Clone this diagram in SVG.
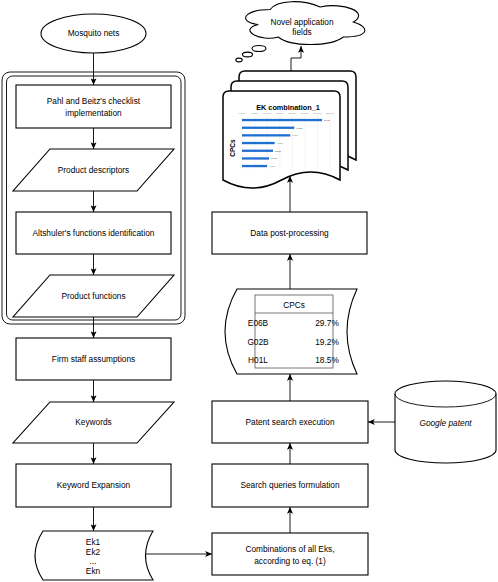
<svg xmlns="http://www.w3.org/2000/svg" width="498" height="582" viewBox="0 0 498 582">
<defs>
<style>
.s{fill:#fff;stroke:#000;stroke-width:1.1}
.t{font-family:"Liberation Sans",Arial,sans-serif;font-size:8.3px;fill:#000;text-anchor:middle}
.c{fill:none;stroke:#000;stroke-width:0.9}
.a{marker-end:url(#ah)}
.g{stroke:#e3e3e3;stroke-width:0.4}
.b{fill:#1f6fd1}
.tk{font-family:"Liberation Sans",Arial,sans-serif;font-size:2.3px;fill:#777;text-anchor:middle}
.bl{font-family:"Liberation Sans",Arial,sans-serif;font-size:2.4px;fill:#666}
.d{fill:#fff;stroke:#000;stroke-width:1.5}
</style>
<marker id="ah" viewBox="0 0 8 7" refX="8" refY="3.5" markerWidth="7" markerHeight="6" markerUnits="userSpaceOnUse" orient="auto">
<path d="M0,0 L8,3.5 L0,7 L2,3.5 Z" fill="#000"/>
</marker>
</defs>
<rect width="498" height="582" fill="#fff"/>

<g id="container">
<rect x="2" y="72" width="183" height="252" rx="8" fill="none" stroke="#000" stroke-width="0.9"/>
<rect x="6.5" y="76" width="174.5" height="244" rx="6" fill="none" stroke="#000" stroke-width="0.9"/>
</g>

<g id="connectors">
<path class="c a" d="M93.5,53 V85"/>
<path class="c a" d="M93.5,128 V149"/>
<path class="c a" d="M93.5,191 V212"/>
<path class="c a" d="M93.5,254 V275"/>
<path class="c a" d="M93.5,317 V338"/>
<path class="c a" d="M93.5,380 V402"/>
<path class="c a" d="M93.5,443 V464"/>
<path class="c a" d="M93.5,507 V531"/>
<path class="c a" d="M145.5,554 H212"/>
<path class="c a" d="M290,533 V507"/>
<path class="c a" d="M290,464 V443"/>
<path class="c a" d="M395,422 H368"/>
<path class="c a" d="M290,401 V374"/>
<path class="c a" d="M290,289 V254"/>
<path class="c a" d="M290,212 V176"/>
<path class="c a" d="M291,71 V58 H301 V46"/>
</g>

<g id="mosquito">
<ellipse class="s" cx="93.5" cy="33.5" rx="52.5" ry="19.5"/>
<text class="t" x="93.5" y="36.4">Mosquito nets</text>
</g>

<g id="pahl">
<rect class="s" x="16" y="85" width="155" height="43"/>
<text class="t" x="93.5" y="104">Pahl and Beitz's checklist</text>
<text class="t" x="93.5" y="116">implementation</text>
</g>

<g id="descriptors">
<polygon class="s" points="50,149 174,149 137,191 13,191"/>
<text class="t" x="93.5" y="172.9">Product descriptors</text>
</g>

<g id="altshuler">
<rect class="s" x="16" y="212" width="155" height="42"/>
<text class="t" x="93.5" y="235.9">Altshuler's functions identification</text>
</g>

<g id="functions">
<polygon class="s" points="50,275 174,275 137,317 13,317"/>
<text class="t" x="93.5" y="298.9">Product functions</text>
</g>

<g id="firm">
<rect class="s" x="16" y="338" width="155" height="42"/>
<text class="t" x="93.5" y="361.9">Firm staff assumptions</text>
</g>

<g id="keywords">
<polygon class="s" points="50,402 174,402 137,443 13,443"/>
<text class="t" x="93.5" y="425.4">Keywords</text>
</g>

<g id="expansion">
<rect class="s" x="16" y="464" width="155" height="43"/>
<text class="t" x="93.5" y="488.4">Keyword Expansion</text>
</g>

<g id="eks">
<path class="s" d="M43,531 H153 Q138,555.5 153,580 H43 Q27,555.5 43,531 Z"/>
<text class="t" x="93" y="545">Ek1</text>
<text class="t" x="93" y="554.5">Ek2</text>
<text class="t" x="93" y="564">...</text>
<text class="t" x="93" y="574">Ekn</text>
</g>

<g id="combinations">
<rect class="s" x="212" y="533" width="156" height="42"/>
<text class="t" x="290" y="552">Combinations of all Eks,</text>
<text class="t" x="290" y="564">according to eq. (1)</text>
</g>

<g id="queries">
<rect class="s" x="212" y="464" width="156" height="43"/>
<text class="t" x="290" y="488.4">Search queries formulation</text>
</g>

<g id="search">
<rect class="s" x="212" y="401" width="156" height="42"/>
<text class="t" x="290" y="424.9">Patent search execution</text>
</g>

<g id="google">
<path class="s" d="M395,394 A50.5,13 0 0 1 496,394 V450 A50.5,13 0 0 1 395,450 Z"/>
<path class="c" d="M395,394 A50.5,13 0 0 0 496,394" stroke-width="1.1"/>
<text class="t" x="445.5" y="425.5" font-style="italic">Google patent</text>
</g>

<g id="cpcs">
<path class="s" d="M237,289 H357 Q337,331.5 357,374 H237 Q213,331.5 237,289 Z"/>
<rect x="255" y="295" width="78" height="73" fill="#fff" stroke="#555" stroke-width="0.8"/>
<line x1="255" y1="313" x2="333" y2="313" stroke="#555" stroke-width="0.8"/>
<text class="t" x="294" y="307.5">CPCs</text>
<text class="t" x="258" y="326" text-anchor="start">E06B</text>
<text class="t" x="327" y="326" text-anchor="end">29.7%</text>
<text class="t" x="258" y="344.5" text-anchor="start">G02B</text>
<text class="t" x="327" y="344.5" text-anchor="end">19.2%</text>
<text class="t" x="258" y="363" text-anchor="start">H01L</text>
<text class="t" x="327" y="363" text-anchor="end">18.5%</text>
</g>

<g id="postprocessing">
<rect class="s" x="212" y="212" width="155" height="42"/>
<text class="t" x="289.5" y="235.9">Data post-processing</text>
</g>

<g id="documents">
<path class="d" d="M239,77 Q239,71 245,71 H350 Q356,71 356,77 V160 Q326.75,144 297.5,160 Q268.25,176 239,160 Z"/>
<path class="d" d="M231,87 Q231,81 237,81 H342 Q348,81 348,87 V170 Q318.75,154 289.5,170 Q260.25,186 231,170 Z"/>
<path class="d" d="M223,97 Q223,91 229,91 H334 Q340,91 340,97 V180 Q310.75,164 281.5,180 Q252.25,196 223,180 Z"/>
<text x="288" y="109.8" font-family="'Liberation Sans',Arial,sans-serif" font-size="7.3" font-weight="bold" text-anchor="middle">EK combination_1</text>
<text transform="translate(234.5,148) rotate(-90)" font-family="'Liberation Sans',Arial,sans-serif" font-size="6.5" font-weight="bold" text-anchor="middle">CPCs</text>
<g>
<line class="g" x1="242" y1="115" x2="242" y2="169"/>
<line class="g" x1="254.6" y1="115" x2="254.6" y2="169"/>
<line class="g" x1="267.2" y1="115" x2="267.2" y2="169"/>
<line class="g" x1="279.8" y1="115" x2="279.8" y2="169"/>
<line class="g" x1="292.4" y1="115" x2="292.4" y2="169"/>
<line class="g" x1="305" y1="115" x2="305" y2="169"/>
<line class="g" x1="317.6" y1="115" x2="317.6" y2="169"/>
<line class="g" x1="330.2" y1="115" x2="330.2" y2="169"/>
<text class="tk" x="242" y="113.5">0.00%</text>
<text class="tk" x="254.6" y="113.5">5.00%</text>
<text class="tk" x="267.2" y="113.5">10.00%</text>
<text class="tk" x="279.8" y="113.5">15.00%</text>
<text class="tk" x="292.4" y="113.5">20.00%</text>
<text class="tk" x="305" y="113.5">25.00%</text>
<text class="tk" x="317.6" y="113.5">30.00%</text>
<text class="tk" x="330.2" y="113.5">35.00%</text>
</g>
<rect class="b" x="242" y="118.9" width="80" height="2.3"/>
<rect class="b" x="242" y="126.6" width="52.3" height="2.3"/>
<rect class="b" x="242" y="134.2" width="48.3" height="2.3"/>
<rect class="b" x="242" y="141.9" width="32.7" height="2.3"/>
<rect class="b" x="242" y="149.6" width="31" height="2.3"/>
<rect class="b" x="242" y="157.3" width="27" height="2.3"/>
<rect class="b" x="242" y="164.9" width="25" height="2.3"/>
<text class="bl" x="324" y="120.9">E06B</text>
<text class="bl" x="296.3" y="128.6">G02B</text>
<text class="bl" x="292.3" y="136.2">H01L</text>
<text class="bl" x="276.7" y="143.9">A01M</text>
<text class="bl" x="275" y="151.6">B32B</text>
<text class="bl" x="271" y="159.3">D03D</text>
<text class="bl" x="269" y="166.9">A47C</text>
</g>

<g id="cloud">
<path class="s" d="M270.25,9.5 C243.65,9.5 237,22 258.28,24.5 C237,30 260.94,42 278.23,37 C290.2,47 330.1,47 343.4,37 C370,37 370,27 353.38,22 C370,12 343.4,2 320.13,7 C303.5,-0.5 276.9,-0.5 270.25,9.5 Z"/>
<text class="t" x="302" y="24.5">Novel application</text>
<text class="t" x="302" y="35">fields</text>
<ellipse class="s" cx="259" cy="48.5" rx="7" ry="3"/>
<ellipse class="s" cx="247.5" cy="54.5" rx="5" ry="2.4"/>
<ellipse class="s" cx="239" cy="60" rx="3.2" ry="1.9"/>
</g>
</svg>
